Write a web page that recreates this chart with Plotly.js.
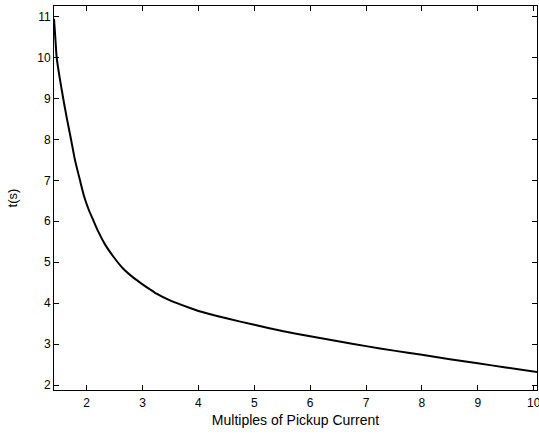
<!DOCTYPE html>
<html>
<head>
<meta charset="utf-8">
<script src="https://cdn.plot.ly/plotly-3.0.1.min.js"></script>
<style>html,body{margin:0;padding:0;background:#fff;}#chart{width:539px;height:435px;}</style>
</head>
<body>
<div id="chart"></div>
<script>
const multiples = [1.415, 1.44, 1.463, 1.52, 1.58, 1.64, 1.72, 1.79, 1.88, 1.96, 2.04, 2.12, 2.21, 2.33, 2.476, 2.655, 2.83, 3.0, 3.13, 3.25, 3.5, 3.85, 4.0, 4.5, 5.0, 5.5, 6.0, 6.5, 7.0, 7.5, 8.0, 8.5, 9.0, 9.5, 10.06];
const timeSec = [10.95, 10.45, 10.0, 9.48, 9.0, 8.55, 8.0, 7.5, 7.0, 6.58, 6.27, 6.02, 5.74, 5.43, 5.14, 4.84, 4.63, 4.46, 4.34, 4.23, 4.06, 3.88, 3.81, 3.63, 3.47, 3.32, 3.19, 3.07, 2.95, 2.84, 2.74, 2.63, 2.53, 2.43, 2.32];
const xTicks = [2, 3, 4, 5, 6, 7, 8, 9, 10];
const yTicks = [2, 3, 4, 5, 6, 7, 8, 9, 10, 11];

const fam = 'Liberation Sans, Arial, Helvetica, sans-serif';
const axisCommon = {
  showline: true, linecolor: '#000', linewidth: 1, mirror: 'ticks',
  ticks: 'inside', ticklen: 5, tickcolor: '#000', tickwidth: 1,
  showgrid: false, zeroline: false, ticklabeloverflow: 'allow'
};
Plotly.newPlot('chart', [{
  x: multiples, y: timeSec, type: 'scatter', mode: 'lines',
  line: {color: '#000', width: 2, shape: 'spline', smoothing: 0.5}
}], {
  width: 539, height: 435,
  margin: {l: 54, r: 2, t: 6, b: 45},
  paper_bgcolor: '#fff', plot_bgcolor: '#fff',
  showlegend: false,
  xaxis: Object.assign({}, axisCommon, {
    range: [1.415, 10.06], tickvals: xTicks, ticktext: xTicks.map(String),
    tickfont: {family: fam, size: 12, color: '#000'}, ticklabelstandoff: 2,
    title: {text: 'Multiples of Pickup Current', font: {family: fam, size: 14, color: '#000'}, standoff: 5}
  }),
  yaxis: Object.assign({}, axisCommon, {
    range: [1.878, 11.26], tickvals: yTicks, ticktext: yTicks.map(String),
    tickfont: {family: fam, size: 12, color: '#000'},
    title: {text: 't(s)', font: {family: fam, size: 13, color: '#000'}, standoff: 16}
  })
}, {displayModeBar: false, staticPlot: true});
</script>
</body>
</html>
